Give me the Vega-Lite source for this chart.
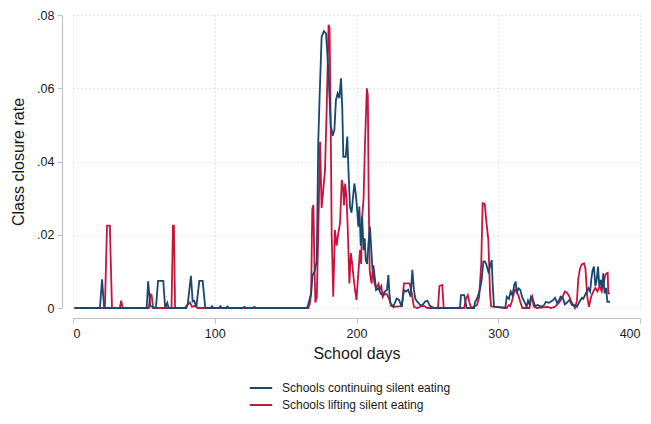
{
  "$schema": "https://vega.github.io/schema/vega-lite/v6.json",
  "width": 567,
  "height": 293,
  "autosize": "none",
  "padding": {"left": 73, "top": 15, "right": 11, "bottom": 116},
  "background": "white",
  "config": {
    "font": "Liberation Sans",
    "view": {"stroke": null},
    "axis": {
      "domainColor": "#c4c4c4",
      "domainWidth": 1.2,
      "tickColor": "#c4c4c4",
      "tickWidth": 1.2,
      "tickSize": 5,
      "labelColor": "#1a1a1a",
      "labelFontSize": 12.5,
      "titleColor": "#1a1a1a",
      "titleFontSize": 16,
      "titleFontWeight": "normal",
      "gridColor": "#cfcfcf",
      "gridDash": [1, 3],
      "gridWidth": 1
    }
  },
  "datasets": {
    "rates": [
      {"series": "Schools continuing silent eating", "day": 1, "rate": 0},
      {"series": "Schools continuing silent eating", "day": 19, "rate": 0},
      {"series": "Schools continuing silent eating", "day": 20.5, "rate": 0.0078},
      {"series": "Schools continuing silent eating", "day": 22, "rate": 0},
      {"series": "Schools continuing silent eating", "day": 52, "rate": 0},
      {"series": "Schools continuing silent eating", "day": 53, "rate": 0.0073},
      {"series": "Schools continuing silent eating", "day": 54.5, "rate": 0.0005},
      {"series": "Schools continuing silent eating", "day": 58.5, "rate": 0},
      {"series": "Schools continuing silent eating", "day": 60, "rate": 0.0074},
      {"series": "Schools continuing silent eating", "day": 63.7, "rate": 0.0074},
      {"series": "Schools continuing silent eating", "day": 65, "rate": 0},
      {"series": "Schools continuing silent eating", "day": 66.5, "rate": 0.0014},
      {"series": "Schools continuing silent eating", "day": 67.5, "rate": 0},
      {"series": "Schools continuing silent eating", "day": 80, "rate": 0},
      {"series": "Schools continuing silent eating", "day": 81, "rate": 0.0012},
      {"series": "Schools continuing silent eating", "day": 83.2, "rate": 0.0088},
      {"series": "Schools continuing silent eating", "day": 84.4, "rate": 0.0018},
      {"series": "Schools continuing silent eating", "day": 85.5, "rate": 0.002},
      {"series": "Schools continuing silent eating", "day": 87, "rate": 0.0002},
      {"series": "Schools continuing silent eating", "day": 89.1, "rate": 0.0074},
      {"series": "Schools continuing silent eating", "day": 91.5, "rate": 0.0074},
      {"series": "Schools continuing silent eating", "day": 93.3, "rate": 0},
      {"series": "Schools continuing silent eating", "day": 97, "rate": 0},
      {"series": "Schools continuing silent eating", "day": 98, "rate": 0.0005},
      {"series": "Schools continuing silent eating", "day": 99, "rate": 0},
      {"series": "Schools continuing silent eating", "day": 103, "rate": 0},
      {"series": "Schools continuing silent eating", "day": 104, "rate": 0.0005},
      {"series": "Schools continuing silent eating", "day": 105, "rate": 0},
      {"series": "Schools continuing silent eating", "day": 108, "rate": 0},
      {"series": "Schools continuing silent eating", "day": 109, "rate": 0.0004},
      {"series": "Schools continuing silent eating", "day": 110, "rate": 0},
      {"series": "Schools continuing silent eating", "day": 120, "rate": 0},
      {"series": "Schools continuing silent eating", "day": 121, "rate": 0.0003},
      {"series": "Schools continuing silent eating", "day": 122, "rate": 0},
      {"series": "Schools continuing silent eating", "day": 127, "rate": 0},
      {"series": "Schools continuing silent eating", "day": 128, "rate": 0.0003},
      {"series": "Schools continuing silent eating", "day": 129, "rate": 0},
      {"series": "Schools continuing silent eating", "day": 165, "rate": 0},
      {"series": "Schools continuing silent eating", "day": 166, "rate": 0.001},
      {"series": "Schools continuing silent eating", "day": 167, "rate": 0.0025},
      {"series": "Schools continuing silent eating", "day": 168, "rate": 0.004},
      {"series": "Schools continuing silent eating", "day": 169, "rate": 0.009},
      {"series": "Schools continuing silent eating", "day": 170.5, "rate": 0.01},
      {"series": "Schools continuing silent eating", "day": 172, "rate": 0.013},
      {"series": "Schools continuing silent eating", "day": 173, "rate": 0.045},
      {"series": "Schools continuing silent eating", "day": 174, "rate": 0.058},
      {"series": "Schools continuing silent eating", "day": 175.4, "rate": 0.074},
      {"series": "Schools continuing silent eating", "day": 177, "rate": 0.0756},
      {"series": "Schools continuing silent eating", "day": 178.5, "rate": 0.075},
      {"series": "Schools continuing silent eating", "day": 180, "rate": 0.066},
      {"series": "Schools continuing silent eating", "day": 181.8, "rate": 0.05},
      {"series": "Schools continuing silent eating", "day": 183.2, "rate": 0.047},
      {"series": "Schools continuing silent eating", "day": 184.4, "rate": 0.0486},
      {"series": "Schools continuing silent eating", "day": 185.5, "rate": 0.0568},
      {"series": "Schools continuing silent eating", "day": 186.7, "rate": 0.0586},
      {"series": "Schools continuing silent eating", "day": 187.9, "rate": 0.0573},
      {"series": "Schools continuing silent eating", "day": 189.1, "rate": 0.0627},
      {"series": "Schools continuing silent eating", "day": 190, "rate": 0.054},
      {"series": "Schools continuing silent eating", "day": 190.7, "rate": 0.0413},
      {"series": "Schools continuing silent eating", "day": 192.4, "rate": 0.0413},
      {"series": "Schools continuing silent eating", "day": 193.5, "rate": 0.0468},
      {"series": "Schools continuing silent eating", "day": 194.5, "rate": 0.036},
      {"series": "Schools continuing silent eating", "day": 195.4, "rate": 0.0277},
      {"series": "Schools continuing silent eating", "day": 196.5, "rate": 0.026},
      {"series": "Schools continuing silent eating", "day": 197.8, "rate": 0.0313},
      {"series": "Schools continuing silent eating", "day": 198.5, "rate": 0.034},
      {"series": "Schools continuing silent eating", "day": 199.5, "rate": 0.031},
      {"series": "Schools continuing silent eating", "day": 200.3, "rate": 0.0277},
      {"series": "Schools continuing silent eating", "day": 201.3, "rate": 0.0222},
      {"series": "Schools continuing silent eating", "day": 202, "rate": 0.0277},
      {"series": "Schools continuing silent eating", "day": 203, "rate": 0.017},
      {"series": "Schools continuing silent eating", "day": 204, "rate": 0.025},
      {"series": "Schools continuing silent eating", "day": 205, "rate": 0.0158},
      {"series": "Schools continuing silent eating", "day": 205.8, "rate": 0.019},
      {"series": "Schools continuing silent eating", "day": 206.5, "rate": 0.0131},
      {"series": "Schools continuing silent eating", "day": 207.5, "rate": 0.012},
      {"series": "Schools continuing silent eating", "day": 208.5, "rate": 0.018},
      {"series": "Schools continuing silent eating", "day": 209.5, "rate": 0.0222},
      {"series": "Schools continuing silent eating", "day": 210.3, "rate": 0.017},
      {"series": "Schools continuing silent eating", "day": 211.2, "rate": 0.011},
      {"series": "Schools continuing silent eating", "day": 212, "rate": 0.0113},
      {"series": "Schools continuing silent eating", "day": 213, "rate": 0.008},
      {"series": "Schools continuing silent eating", "day": 213.8, "rate": 0.0049},
      {"series": "Schools continuing silent eating", "day": 215.5, "rate": 0.0054},
      {"series": "Schools continuing silent eating", "day": 217, "rate": 0.004},
      {"series": "Schools continuing silent eating", "day": 218.5, "rate": 0.0035},
      {"series": "Schools continuing silent eating", "day": 220, "rate": 0.0045},
      {"series": "Schools continuing silent eating", "day": 221.5, "rate": 0.005},
      {"series": "Schools continuing silent eating", "day": 222.5, "rate": 0.009},
      {"series": "Schools continuing silent eating", "day": 223.3, "rate": 0.0035},
      {"series": "Schools continuing silent eating", "day": 224, "rate": 0.0013},
      {"series": "Schools continuing silent eating", "day": 226, "rate": 0.0004},
      {"series": "Schools continuing silent eating", "day": 228.3, "rate": 0.0026},
      {"series": "Schools continuing silent eating", "day": 230, "rate": 0.0022},
      {"series": "Schools continuing silent eating", "day": 231.9, "rate": 0.0003},
      {"series": "Schools continuing silent eating", "day": 233.5, "rate": 0.0049},
      {"series": "Schools continuing silent eating", "day": 235, "rate": 0.0045},
      {"series": "Schools continuing silent eating", "day": 236.5, "rate": 0.005},
      {"series": "Schools continuing silent eating", "day": 238.2, "rate": 0.0031},
      {"series": "Schools continuing silent eating", "day": 239.4, "rate": 0.0104},
      {"series": "Schools continuing silent eating", "day": 240.5, "rate": 0.005},
      {"series": "Schools continuing silent eating", "day": 241.5, "rate": 0.0025},
      {"series": "Schools continuing silent eating", "day": 242.9, "rate": 0.0017},
      {"series": "Schools continuing silent eating", "day": 245, "rate": 0.0008},
      {"series": "Schools continuing silent eating", "day": 246.5, "rate": 0.0008},
      {"series": "Schools continuing silent eating", "day": 248.3, "rate": 0.0017},
      {"series": "Schools continuing silent eating", "day": 250, "rate": 0.002},
      {"series": "Schools continuing silent eating", "day": 251.5, "rate": 0.0008},
      {"series": "Schools continuing silent eating", "day": 253, "rate": 0.0003},
      {"series": "Schools continuing silent eating", "day": 255, "rate": 0},
      {"series": "Schools continuing silent eating", "day": 273, "rate": 0},
      {"series": "Schools continuing silent eating", "day": 273.7, "rate": 0.0035},
      {"series": "Schools continuing silent eating", "day": 276, "rate": 0.0035},
      {"series": "Schools continuing silent eating", "day": 277.7, "rate": 0},
      {"series": "Schools continuing silent eating", "day": 283, "rate": 0},
      {"series": "Schools continuing silent eating", "day": 283.6, "rate": 0.0017},
      {"series": "Schools continuing silent eating", "day": 285, "rate": 0.0025},
      {"series": "Schools continuing silent eating", "day": 287, "rate": 0.0049},
      {"series": "Schools continuing silent eating", "day": 288.3, "rate": 0.0077},
      {"series": "Schools continuing silent eating", "day": 289.5, "rate": 0.0127},
      {"series": "Schools continuing silent eating", "day": 290.5, "rate": 0.0127},
      {"series": "Schools continuing silent eating", "day": 291.5, "rate": 0.012},
      {"series": "Schools continuing silent eating", "day": 293, "rate": 0.0099},
      {"series": "Schools continuing silent eating", "day": 294, "rate": 0.011},
      {"series": "Schools continuing silent eating", "day": 295.4, "rate": 0.0131},
      {"series": "Schools continuing silent eating", "day": 296, "rate": 0.007},
      {"series": "Schools continuing silent eating", "day": 297, "rate": 0.0004},
      {"series": "Schools continuing silent eating", "day": 305, "rate": 0},
      {"series": "Schools continuing silent eating", "day": 306, "rate": 0.0031},
      {"series": "Schools continuing silent eating", "day": 307.5, "rate": 0.0025},
      {"series": "Schools continuing silent eating", "day": 308.8, "rate": 0.0045},
      {"series": "Schools continuing silent eating", "day": 310, "rate": 0.0035},
      {"series": "Schools continuing silent eating", "day": 311.3, "rate": 0.0063},
      {"series": "Schools continuing silent eating", "day": 312.3, "rate": 0.0072},
      {"series": "Schools continuing silent eating", "day": 313, "rate": 0.004},
      {"series": "Schools continuing silent eating", "day": 314.2, "rate": 0.0054},
      {"series": "Schools continuing silent eating", "day": 315.5, "rate": 0.005},
      {"series": "Schools continuing silent eating", "day": 317, "rate": 0.0028},
      {"series": "Schools continuing silent eating", "day": 318.5, "rate": 0.0017},
      {"series": "Schools continuing silent eating", "day": 320, "rate": 0.0003},
      {"series": "Schools continuing silent eating", "day": 321, "rate": 0.002},
      {"series": "Schools continuing silent eating", "day": 322, "rate": 0.001},
      {"series": "Schools continuing silent eating", "day": 323.1, "rate": 0.0031},
      {"series": "Schools continuing silent eating", "day": 324.5, "rate": 0.0022},
      {"series": "Schools continuing silent eating", "day": 326, "rate": 0.0005},
      {"series": "Schools continuing silent eating", "day": 328, "rate": 0.0008},
      {"series": "Schools continuing silent eating", "day": 330, "rate": 0.0004},
      {"series": "Schools continuing silent eating", "day": 332, "rate": 0.0006},
      {"series": "Schools continuing silent eating", "day": 333.7, "rate": 0.0017},
      {"series": "Schools continuing silent eating", "day": 335.5, "rate": 0.0014},
      {"series": "Schools continuing silent eating", "day": 337, "rate": 0.0017},
      {"series": "Schools continuing silent eating", "day": 338.8, "rate": 0.0022},
      {"series": "Schools continuing silent eating", "day": 340, "rate": 0.0028},
      {"series": "Schools continuing silent eating", "day": 341.5, "rate": 0.0014},
      {"series": "Schools continuing silent eating", "day": 343, "rate": 0.0022},
      {"series": "Schools continuing silent eating", "day": 344, "rate": 0.0031},
      {"series": "Schools continuing silent eating", "day": 345.5, "rate": 0.0028},
      {"series": "Schools continuing silent eating", "day": 347, "rate": 0.001},
      {"series": "Schools continuing silent eating", "day": 348.5, "rate": 0.0015},
      {"series": "Schools continuing silent eating", "day": 350.2, "rate": 0.0022},
      {"series": "Schools continuing silent eating", "day": 352, "rate": 0.0008},
      {"series": "Schools continuing silent eating", "day": 354, "rate": 0.0008},
      {"series": "Schools continuing silent eating", "day": 355.5, "rate": 0.0003},
      {"series": "Schools continuing silent eating", "day": 357, "rate": 0.0015},
      {"series": "Schools continuing silent eating", "day": 359, "rate": 0.0028},
      {"series": "Schools continuing silent eating", "day": 360, "rate": 0.0025},
      {"series": "Schools continuing silent eating", "day": 361.2, "rate": 0.0035},
      {"series": "Schools continuing silent eating", "day": 362.5, "rate": 0.0045},
      {"series": "Schools continuing silent eating", "day": 363.6, "rate": 0.0054},
      {"series": "Schools continuing silent eating", "day": 364.8, "rate": 0.0045},
      {"series": "Schools continuing silent eating", "day": 365.7, "rate": 0.008},
      {"series": "Schools continuing silent eating", "day": 366.6, "rate": 0.0104},
      {"series": "Schools continuing silent eating", "day": 367.5, "rate": 0.0113},
      {"series": "Schools continuing silent eating", "day": 368.5, "rate": 0.006},
      {"series": "Schools continuing silent eating", "day": 369.4, "rate": 0.0076},
      {"series": "Schools continuing silent eating", "day": 370.4, "rate": 0.0113},
      {"series": "Schools continuing silent eating", "day": 371.3, "rate": 0.006},
      {"series": "Schools continuing silent eating", "day": 372.3, "rate": 0.0077},
      {"series": "Schools continuing silent eating", "day": 373.2, "rate": 0.0055},
      {"series": "Schools continuing silent eating", "day": 374.1, "rate": 0.0095},
      {"series": "Schools continuing silent eating", "day": 375, "rate": 0.004},
      {"series": "Schools continuing silent eating", "day": 376, "rate": 0.0055},
      {"series": "Schools continuing silent eating", "day": 377, "rate": 0.0017},
      {"series": "Schools continuing silent eating", "day": 378.8, "rate": 0.0017},

      {"series": "Schools lifting silent eating", "day": 1, "rate": 0},
      {"series": "Schools lifting silent eating", "day": 22.5, "rate": 0},
      {"series": "Schools lifting silent eating", "day": 24, "rate": 0.0225},
      {"series": "Schools lifting silent eating", "day": 26, "rate": 0.0225},
      {"series": "Schools lifting silent eating", "day": 27.5, "rate": 0},
      {"series": "Schools lifting silent eating", "day": 33, "rate": 0},
      {"series": "Schools lifting silent eating", "day": 34, "rate": 0.002},
      {"series": "Schools lifting silent eating", "day": 35, "rate": 0},
      {"series": "Schools lifting silent eating", "day": 53.5, "rate": 0},
      {"series": "Schools lifting silent eating", "day": 54.5, "rate": 0.0038},
      {"series": "Schools lifting silent eating", "day": 55.5, "rate": 0.0035},
      {"series": "Schools lifting silent eating", "day": 56.5, "rate": 0},
      {"series": "Schools lifting silent eating", "day": 69.5, "rate": 0},
      {"series": "Schools lifting silent eating", "day": 70.5, "rate": 0.0225},
      {"series": "Schools lifting silent eating", "day": 71.2, "rate": 0.0225},
      {"series": "Schools lifting silent eating", "day": 72, "rate": 0},
      {"series": "Schools lifting silent eating", "day": 79, "rate": 0},
      {"series": "Schools lifting silent eating", "day": 80, "rate": 0.0006},
      {"series": "Schools lifting silent eating", "day": 82.5, "rate": 0.0015},
      {"series": "Schools lifting silent eating", "day": 84, "rate": 0.0003},
      {"series": "Schools lifting silent eating", "day": 86, "rate": 0.0006},
      {"series": "Schools lifting silent eating", "day": 88, "rate": 0},
      {"series": "Schools lifting silent eating", "day": 166, "rate": 0},
      {"series": "Schools lifting silent eating", "day": 167, "rate": 0.001},
      {"series": "Schools lifting silent eating", "day": 168, "rate": 0.004},
      {"series": "Schools lifting silent eating", "day": 168.8, "rate": 0.027},
      {"series": "Schools lifting silent eating", "day": 169.6, "rate": 0.0281},
      {"series": "Schools lifting silent eating", "day": 170.3, "rate": 0.012},
      {"series": "Schools lifting silent eating", "day": 171, "rate": 0.0015},
      {"series": "Schools lifting silent eating", "day": 172, "rate": 0.003},
      {"series": "Schools lifting silent eating", "day": 173, "rate": 0.02},
      {"series": "Schools lifting silent eating", "day": 174.3, "rate": 0.0454},
      {"series": "Schools lifting silent eating", "day": 175.4, "rate": 0.0273},
      {"series": "Schools lifting silent eating", "day": 176.5, "rate": 0.032},
      {"series": "Schools lifting silent eating", "day": 177.8, "rate": 0.0377},
      {"series": "Schools lifting silent eating", "day": 179, "rate": 0.055},
      {"series": "Schools lifting silent eating", "day": 180.3, "rate": 0.0773},
      {"series": "Schools lifting silent eating", "day": 181, "rate": 0.0765},
      {"series": "Schools lifting silent eating", "day": 181.8, "rate": 0.05},
      {"series": "Schools lifting silent eating", "day": 182.5, "rate": 0.02},
      {"series": "Schools lifting silent eating", "day": 183.6, "rate": 0.0031},
      {"series": "Schools lifting silent eating", "day": 184.8, "rate": 0.0213},
      {"series": "Schools lifting silent eating", "day": 186, "rate": 0.017},
      {"series": "Schools lifting silent eating", "day": 187, "rate": 0.02},
      {"series": "Schools lifting silent eating", "day": 188.4, "rate": 0.0232},
      {"series": "Schools lifting silent eating", "day": 189.6, "rate": 0.035},
      {"series": "Schools lifting silent eating", "day": 190.5, "rate": 0.033},
      {"series": "Schools lifting silent eating", "day": 191.2, "rate": 0.028},
      {"series": "Schools lifting silent eating", "day": 192, "rate": 0.034},
      {"series": "Schools lifting silent eating", "day": 193, "rate": 0.03},
      {"series": "Schools lifting silent eating", "day": 193.8, "rate": 0.022},
      {"series": "Schools lifting silent eating", "day": 194.5, "rate": 0.0131},
      {"series": "Schools lifting silent eating", "day": 195, "rate": 0.0067},
      {"series": "Schools lifting silent eating", "day": 196, "rate": 0.015},
      {"series": "Schools lifting silent eating", "day": 197, "rate": 0.012},
      {"series": "Schools lifting silent eating", "day": 198, "rate": 0.008},
      {"series": "Schools lifting silent eating", "day": 199, "rate": 0.0049},
      {"series": "Schools lifting silent eating", "day": 200, "rate": 0.0022},
      {"series": "Schools lifting silent eating", "day": 201, "rate": 0.008},
      {"series": "Schools lifting silent eating", "day": 202.5, "rate": 0.0158},
      {"series": "Schools lifting silent eating", "day": 203.3, "rate": 0.012},
      {"series": "Schools lifting silent eating", "day": 204, "rate": 0.0249},
      {"series": "Schools lifting silent eating", "day": 205, "rate": 0.03},
      {"series": "Schools lifting silent eating", "day": 206, "rate": 0.045},
      {"series": "Schools lifting silent eating", "day": 207.3, "rate": 0.06},
      {"series": "Schools lifting silent eating", "day": 208, "rate": 0.058},
      {"series": "Schools lifting silent eating", "day": 208.6, "rate": 0.03},
      {"series": "Schools lifting silent eating", "day": 209.3, "rate": 0.0104},
      {"series": "Schools lifting silent eating", "day": 210, "rate": 0.008},
      {"series": "Schools lifting silent eating", "day": 210.7, "rate": 0.0067},
      {"series": "Schools lifting silent eating", "day": 211.5, "rate": 0.011},
      {"series": "Schools lifting silent eating", "day": 212.5, "rate": 0.007},
      {"series": "Schools lifting silent eating", "day": 213.5, "rate": 0.0058},
      {"series": "Schools lifting silent eating", "day": 214.5, "rate": 0.0058},
      {"series": "Schools lifting silent eating", "day": 215.5, "rate": 0.0066},
      {"series": "Schools lifting silent eating", "day": 216.5, "rate": 0.0052},
      {"series": "Schools lifting silent eating", "day": 217.5, "rate": 0.006},
      {"series": "Schools lifting silent eating", "day": 218.5, "rate": 0.003},
      {"series": "Schools lifting silent eating", "day": 220, "rate": 0.004},
      {"series": "Schools lifting silent eating", "day": 221.5, "rate": 0.0037},
      {"series": "Schools lifting silent eating", "day": 223, "rate": 0.0025},
      {"series": "Schools lifting silent eating", "day": 224.5, "rate": 0.0005},
      {"series": "Schools lifting silent eating", "day": 226, "rate": 0.0003},
      {"series": "Schools lifting silent eating", "day": 232, "rate": 0.0005},
      {"series": "Schools lifting silent eating", "day": 233.5, "rate": 0.0067},
      {"series": "Schools lifting silent eating", "day": 237.5, "rate": 0.0067},
      {"series": "Schools lifting silent eating", "day": 239, "rate": 0.004},
      {"series": "Schools lifting silent eating", "day": 240.5, "rate": 0.0003},
      {"series": "Schools lifting silent eating", "day": 243, "rate": 0},
      {"series": "Schools lifting silent eating", "day": 246, "rate": 0.0005},
      {"series": "Schools lifting silent eating", "day": 248, "rate": 0.0005},
      {"series": "Schools lifting silent eating", "day": 250, "rate": 0},
      {"series": "Schools lifting silent eating", "day": 257.5, "rate": 0},
      {"series": "Schools lifting silent eating", "day": 258.5, "rate": 0.006},
      {"series": "Schools lifting silent eating", "day": 260.5, "rate": 0.0063},
      {"series": "Schools lifting silent eating", "day": 261.5, "rate": 0},
      {"series": "Schools lifting silent eating", "day": 276, "rate": 0},
      {"series": "Schools lifting silent eating", "day": 277, "rate": 0.0022},
      {"series": "Schools lifting silent eating", "day": 278.5, "rate": 0.0035},
      {"series": "Schools lifting silent eating", "day": 280, "rate": 0.001},
      {"series": "Schools lifting silent eating", "day": 281, "rate": 0},
      {"series": "Schools lifting silent eating", "day": 285, "rate": 0.0008},
      {"series": "Schools lifting silent eating", "day": 286.5, "rate": 0.003},
      {"series": "Schools lifting silent eating", "day": 288, "rate": 0.012},
      {"series": "Schools lifting silent eating", "day": 289, "rate": 0.0286},
      {"series": "Schools lifting silent eating", "day": 290.5, "rate": 0.0284},
      {"series": "Schools lifting silent eating", "day": 291.5, "rate": 0.024},
      {"series": "Schools lifting silent eating", "day": 293, "rate": 0.0186},
      {"series": "Schools lifting silent eating", "day": 294.2, "rate": 0.004},
      {"series": "Schools lifting silent eating", "day": 295, "rate": 0.0004},
      {"series": "Schools lifting silent eating", "day": 306, "rate": 0},
      {"series": "Schools lifting silent eating", "day": 307.5, "rate": 0.0008},
      {"series": "Schools lifting silent eating", "day": 308.5, "rate": 0.0005},
      {"series": "Schools lifting silent eating", "day": 309.5, "rate": 0.0017},
      {"series": "Schools lifting silent eating", "day": 310.5, "rate": 0.0031},
      {"series": "Schools lifting silent eating", "day": 311.5, "rate": 0.005},
      {"series": "Schools lifting silent eating", "day": 313, "rate": 0.0045},
      {"series": "Schools lifting silent eating", "day": 314.5, "rate": 0.0031},
      {"series": "Schools lifting silent eating", "day": 315.5, "rate": 0.0017},
      {"series": "Schools lifting silent eating", "day": 317, "rate": 0},
      {"series": "Schools lifting silent eating", "day": 322, "rate": 0},
      {"series": "Schools lifting silent eating", "day": 323.1, "rate": 0.0022},
      {"series": "Schools lifting silent eating", "day": 324, "rate": 0.0031},
      {"series": "Schools lifting silent eating", "day": 325, "rate": 0.0005},
      {"series": "Schools lifting silent eating", "day": 327, "rate": 0},
      {"series": "Schools lifting silent eating", "day": 335, "rate": 0.0003},
      {"series": "Schools lifting silent eating", "day": 337, "rate": 0},
      {"series": "Schools lifting silent eating", "day": 340, "rate": 0.0003},
      {"series": "Schools lifting silent eating", "day": 343, "rate": 0.0015},
      {"series": "Schools lifting silent eating", "day": 345.5, "rate": 0.0031},
      {"series": "Schools lifting silent eating", "day": 347, "rate": 0.0045},
      {"series": "Schools lifting silent eating", "day": 348.5, "rate": 0.0042},
      {"series": "Schools lifting silent eating", "day": 350.2, "rate": 0.0031},
      {"series": "Schools lifting silent eating", "day": 351.5, "rate": 0.0017},
      {"series": "Schools lifting silent eating", "day": 354.1, "rate": 0},
      {"series": "Schools lifting silent eating", "day": 355.5, "rate": 0.002},
      {"series": "Schools lifting silent eating", "day": 356.5, "rate": 0.0081},
      {"series": "Schools lifting silent eating", "day": 357.7, "rate": 0.0108},
      {"series": "Schools lifting silent eating", "day": 358.9, "rate": 0.0119},
      {"series": "Schools lifting silent eating", "day": 360.5, "rate": 0.0122},
      {"series": "Schools lifting silent eating", "day": 361.5, "rate": 0.0108},
      {"series": "Schools lifting silent eating", "day": 362.8, "rate": 0.0031},
      {"series": "Schools lifting silent eating", "day": 364, "rate": 0.0003},
      {"series": "Schools lifting silent eating", "day": 365.5, "rate": 0.003},
      {"series": "Schools lifting silent eating", "day": 367, "rate": 0.0045},
      {"series": "Schools lifting silent eating", "day": 368.5, "rate": 0.0055},
      {"series": "Schools lifting silent eating", "day": 370, "rate": 0.0045},
      {"series": "Schools lifting silent eating", "day": 371.5, "rate": 0.006},
      {"series": "Schools lifting silent eating", "day": 373, "rate": 0.0045},
      {"series": "Schools lifting silent eating", "day": 374.5, "rate": 0.007},
      {"series": "Schools lifting silent eating", "day": 375.5, "rate": 0.009},
      {"series": "Schools lifting silent eating", "day": 376.5, "rate": 0.0095},
      {"series": "Schools lifting silent eating", "day": 377.2, "rate": 0.0096},
      {"series": "Schools lifting silent eating", "day": 377.6, "rate": 0.004},
      {"series": "Schools lifting silent eating", "day": 378.8, "rate": 0.004}
    ]
  },
  "data": {"name": "rates"},
  "encoding": {
    "x": {
      "field": "day",
      "type": "quantitative",
      "scale": {"domain": [0, 400], "nice": false, "zero": false},
      "axis": {
        "title": "School days",
        "values": [0, 100, 200, 300, 400],
        "offset": 10,
        "labelPadding": 4,
        "titlePadding": 6,
        "grid": true
      }
    },
    "y": {
      "field": "rate",
      "type": "quantitative",
      "scale": {"domain": [0, 0.08], "nice": false},
      "axis": {
        "title": "Class closure rate",
        "values": [0, 0.02, 0.04, 0.06, 0.08],
        "labelExpr": "datum.value == 0 ? '0' : substring(format(datum.value, '.2f'), 1)",
        "offset": 11,
        "labelPadding": 3,
        "titlePadding": 10,
        "grid": true
      }
    },
    "color": {
      "field": "series",
      "type": "nominal",
      "scale": {
        "domain": ["Schools continuing silent eating", "Schools lifting silent eating"],
        "range": ["#1a476f", "#c8143c"]
      },
      "legend": {
        "title": null,
        "orient": "none",
        "legendX": 180,
        "legendY": 365,
        "symbolType": "M-1.6,0H1.6",
        "symbolSize": 196,
        "symbolStrokeWidth": 2,
        "labelFontSize": 12,
        "labelColor": "#1a1a1a",
        "labelLimit": 0,
        "labelOffset": 13,
        "rowPadding": 3
      }
    }
  },
  "layer": [
    {
      "transform": [{"filter": "datum.series == 'Schools lifting silent eating'"}],
      "mark": {"type": "line", "strokeWidth": 1.8, "interpolate": "linear"}
    },
    {
      "transform": [{"filter": "datum.series == 'Schools continuing silent eating'"}],
      "mark": {"type": "line", "strokeWidth": 1.8, "interpolate": "linear"}
    }
  ]
}
